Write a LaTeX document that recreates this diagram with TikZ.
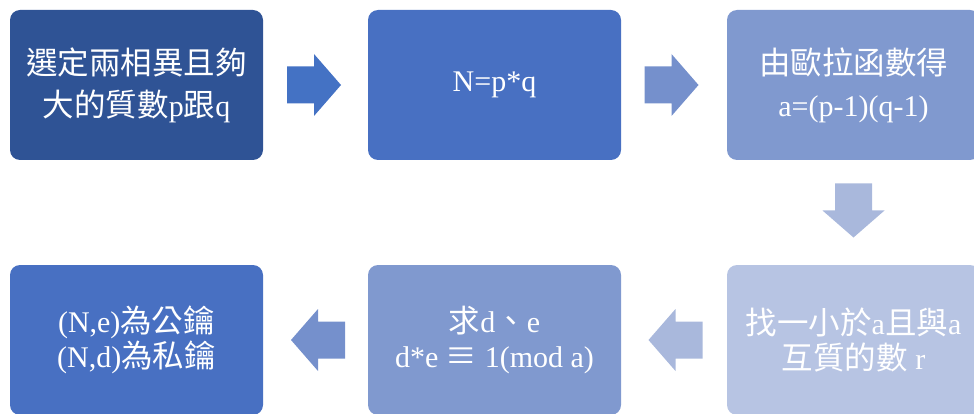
\documentclass[tikz,border=0pt]{standalone}
\usepackage{fontspec}
\setmainfont{Liberation Serif}
\newfontfamily\cjkfont[Scale=1.05]{Noto Sans CJK TC}
\newcommand\zh[1]{{\cjkfont #1}}
\usetikzlibrary{calc}

\definecolor{stepA}{HTML}{2F5395}
\definecolor{stepB}{HTML}{4870C2}
\definecolor{stepC}{HTML}{8099CF}
\definecolor{stepD}{HTML}{B7C4E3}
\definecolor{arrA}{HTML}{4472C4}
\definecolor{arrB}{HTML}{7590CC}
\definecolor{arrC}{HTML}{A9B8DC}

\tikzset{
  stepbox/.style={rectangle, rounded corners=10pt, minimum width=253pt,
    minimum height=150pt, inner sep=0pt, align=center, text=white},
  toprow/.style={font=\fontsize{30}{42}\selectfont},
  botrow/.style={font=\fontsize{30}{35}\selectfont},
  % block arrow pointing right, centred on the pic origin
  flowarrow/.pic={
    \fill[#1] (-27,-18.5) -- (0,-18.5) -- (0,-31) -- (27,0)
      -- (0,31) -- (0,18.5) -- (-27,18.5) -- cycle;
  },
}

\begin{document}
\begin{tikzpicture}[x=1pt, y=-1pt]
  \useasboundingbox (0,0) rectangle (974,414);
  \clip (0,0) rectangle (974,414);

  % top row
  \node[stepbox, toprow, fill=stepA] (s1) at (136.5,85)
    {\zh{選定兩相異且夠}\\\zh{大的質數}p\zh{跟}q};
  \node[stepbox, toprow, fill=stepB] (s2) at (494.5,85) {N=p*q};
  \node[stepbox, toprow, fill=stepC] (s3) at (853.5,85)
    {\zh{由歐拉函數得}\\a=(p-1)(q-1)};

  % bottom row
  \node[stepbox, botrow, fill=stepD] (s4) at (853.5,340)
    {\zh{找一小於}a\zh{且與}a\\\zh{互質的數} r};
  \node[stepbox, botrow, fill=stepC] (s5) at (494.5,340)
    {\zh{求}d\zh{、}e\\d*e \zh{≡} 1(mod a)};
  \node[stepbox, botrow, fill=stepB] (s6) at (136.5,340)
    {(N,e)\zh{為公鑰}\\(N,d)\zh{為私鑰}};

  % arrows between the steps
  \coordinate (a1) at ($(s1.east)!0.5!(s2.west)+(-1.5,0)$);
  \coordinate (a2) at ($(s2.east)!0.5!(s3.west)+(-2.5,0)$);
  \coordinate (a3) at ($(s3.south)!0.5!(s4.north)+(0,-2)$);
  \coordinate (a4) at ($(s5.east)!0.5!(s4.west)+(1.5,0)$);
  \coordinate (a5) at ($(s6.east)!0.5!(s5.west)+(2.5,0)$);

  \pic at (a1) {flowarrow=arrA};
  \pic at (a2) {flowarrow=arrB};
  \pic[rotate=-90] at (a3) {flowarrow=arrC};
  \pic[rotate=180] at (a4) {flowarrow=arrC};
  \pic[rotate=180] at (a5) {flowarrow=arrB};
\end{tikzpicture}
\end{document}
